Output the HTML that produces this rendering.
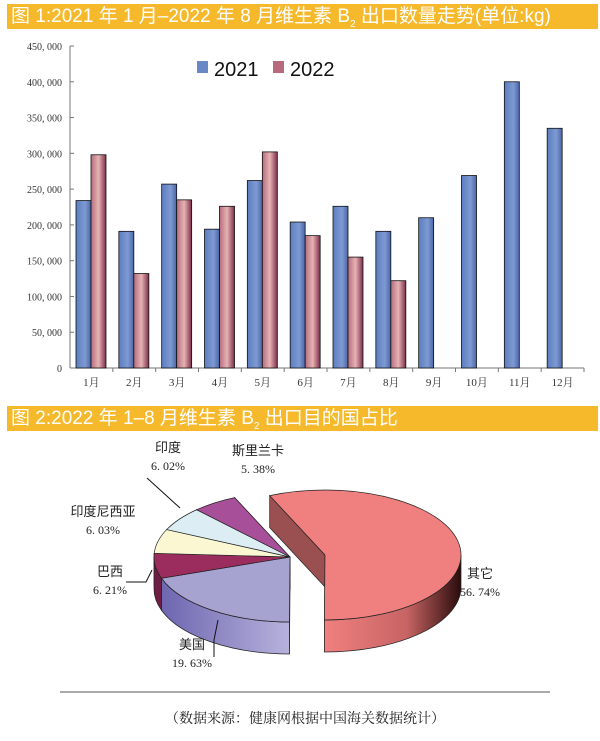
<!DOCTYPE html>
<html><head><meta charset="utf-8"><style>
body{margin:0;background:#fff;width:600px;height:741px;overflow:hidden;font-family:"Liberation Sans","Noto Sans CJK SC",sans-serif}
.hdr{position:absolute;left:7px;width:591px;height:25px;background:#F6B92B;color:#fff;font-size:19px;line-height:25px;padding-left:4px;box-sizing:border-box;white-space:nowrap}
svg{position:absolute;left:0;top:0}
</style></head><body>
<div class="hdr" style="top:4px">图 1:2021 年 1 月–2022 年 8 月维生素 B<sub style="font-size:10px">2</sub> 出口数量走势(单位:kg)</div>
<div class="hdr" style="top:406px">图 2:2022 年 1–8 月维生素 B<sub style="font-size:10px">2</sub> 出口目的国占比</div>
<svg width="600" height="741" id="s">
<defs>
<linearGradient id="gb" x1="0" x2="1"><stop offset="0" stop-color="#5B7DC0"/><stop offset="0.6" stop-color="#7F9AD2"/><stop offset="1" stop-color="#4A66A8"/></linearGradient>
<linearGradient id="gr" x1="0" x2="1"><stop offset="0" stop-color="#B56C7E"/><stop offset="0.5" stop-color="#E6B3B3"/><stop offset="1" stop-color="#7E2E4C"/></linearGradient>
<linearGradient id="gpink" x1="0" x2="1"><stop offset="0" stop-color="#F08080"/><stop offset="0.6" stop-color="#C86464"/><stop offset="1" stop-color="#2A0C0C"/></linearGradient>
<linearGradient id="gus" x1="0" x2="1"><stop offset="0" stop-color="#6E66B0"/><stop offset="1" stop-color="#B6B2DC"/></linearGradient>
</defs>
<g id="bars"></g><g id="pie"></g>
<line x1="60" y1="692" x2="550" y2="692" stroke="#555" stroke-width="1"/>
<text x="305" y="723" text-anchor="middle" font-size="14" font-family="'Liberation Serif','Noto Serif CJK SC',serif" fill="#222">（数据来源：健康网根据中国海关数据统计）</text>
</svg>
<script>
const months=["1月","2月","3月","4月","5月","6月","7月","8月","9月","10月","11月","12月"];
const v2021=[234000,191000,257000,194000,262000,204000,226000,191000,210000,269000,400000,335000];
const v2022=[298000,132000,235000,226000,302000,185000,155000,122000];
const yTicks=[0,50000,100000,150000,200000,250000,300000,350000,400000,450000];
const yTickLabels=["0","50, 000","100, 000","150, 000","200, 000","250, 000","300, 000","350, 000","400, 000","450, 000"];
const pieLabels=["其它","美国","巴西","印度尼西亚","印度","斯里兰卡"];
const pieValues=[56.74,19.63,6.21,6.03,6.02,5.38];
const NS="http://www.w3.org/2000/svg";
function mk(p,t,a){const e=document.createElementNS(NS,t);for(const k in a)e.setAttribute(k,a[k]);p.appendChild(e);return e;}
const B=document.getElementById('bars');
const x0=70,x1=584,yb=368,yt=46;
const y=v=>yb-(v/450000)*(yb-yt);
const gw=(x1-x0)/12;
let ax=mk(B,'line',{x1:x0,y1:yt,x2:x0,y2:yb,stroke:'#777'});


let bx=mk(B,'line',{x1:x0,y1:yb,x2:x1,y2:yb,stroke:'#777'});


yTicks.forEach((t,i)=>{
  mk(B,'line',{x1:x0,y1:y(t),x2:x0+4,y2:y(t),stroke:'#777'});
  const tx=mk(B,'text',{x:62,y:y(t)+4,'text-anchor':'end','font-size':10,'font-family':"'Liberation Serif',serif",fill:'#333'});
  tx.textContent=yTickLabels[i];
  
  
});
months.forEach((m,i)=>{
  const gx=x0+i*gw;
  mk(B,'line',{x1:gx+gw,y1:yb,x2:gx+gw,y2:yb+4,stroke:'#777'});
  const r=mk(B,'rect',{x:gx+6,y:y(v2021[i]),width:15,height:yb-y(v2021[i]),fill:'url(#gb)',stroke:'#111','stroke-width':0.8});
  
  
  if(i<v2022.length){
    const r2=mk(B,'rect',{x:gx+21,y:y(v2022[i]),width:15,height:yb-y(v2022[i]),fill:'url(#gr)',stroke:'#111','stroke-width':0.8});
    
    
  }
  const t=mk(B,'text',{x:gx+gw/2,y:386,'text-anchor':'middle','font-size':11,'font-family':"'Liberation Serif','Noto Serif CJK SC',serif",fill:'#333'});
  t.textContent=m;
  
  
});
[["2021","#6B88C6",197],["2022","#B86A7C",273]].forEach(l=>{
  const r=mk(B,'rect',{x:l[2],y:61,width:11,height:12,fill:l[1]});
  
  
  const t=mk(B,'text',{x:l[2]+17,y:76,'font-size':20,fill:'#111'});
  t.textContent=l[0];
  
  
});
// pie
const P=document.getElementById('pie');
const cx=290,cy=557,rx=136,ry=65,dep=32;
const tops=["#F08080","#A7A3D0","#9B2D5E","#FAF7D2","#DCEEF4","#A84F9A"];
const sides=["url(#gpink)","url(#gus)","#6E1E44","#D8D3A8","#AFC8D2","#7E2F72"];
const offs=[[35,-2],[0,0],[0,0],[0,0],[0,0],[0,0]];
const tot=pieValues.reduce((a,b)=>a+b,0);
let a=-114*Math.PI/180;
const sl=[];
pieValues.forEach((v,i)=>{const sp=v/tot*2*Math.PI;sl.push([a,a+sp]);a+=sp;});
const pt=(c,t,dy)=>[c[0]+rx*Math.cos(t),c[1]+ry*Math.sin(t)+(dy||0)];
sl.forEach((s,i)=>{
  const c=[cx+offs[i][0],cy+offs[i][1]];
  // radial faces
  [s[0],s[1]].forEach(t=>{
    const p=pt(c,t);
    mk(P,'path',{d:`M${c[0]},${c[1]}L${p[0]},${p[1]}L${p[0]},${p[1]+dep}L${c[0]},${c[1]+dep}Z`,fill:i==0?'#9A5050':sides[i],stroke:'#222','stroke-width':0.7});
  });
});
sl.forEach((s,i)=>{
  const c=[cx+offs[i][0],cy+offs[i][1]];
  // side wall for visible portion (0..PI mod 2PI)
  let lo=s[0],hi=s[1];
  const segs=[];
  for(let k=-1;k<=1;k++){const b0=k*2*Math.PI,b1=b0+Math.PI;const l=Math.max(lo,b0),h=Math.min(hi,b1);if(h>l)segs.push([l,h]);}
  segs.forEach(g=>{
    const p0=pt(c,g[0]),p1=pt(c,g[1]);
    const d=`M${p0[0]},${p0[1]}A${rx},${ry} 0 0 1 ${p1[0]},${p1[1]}L${p1[0]},${p1[1]+dep}A${rx},${ry} 0 0 0 ${p0[0]},${p0[1]+dep}Z`;
    mk(P,'path',{d,fill:sides[i],stroke:'#222','stroke-width':0.7});
  });
});
sl.forEach((s,i)=>{
  const c=[cx+offs[i][0],cy+offs[i][1]];
  const p0=pt(c,s[0]),p1=pt(c,s[1]);
  const large=(s[1]-s[0])>Math.PI?1:0;
  const e=mk(P,'path',{d:`M${c[0]},${c[1]}L${p0[0]},${p0[1]}A${rx},${ry} 0 ${large} 1 ${p1[0]},${p1[1]}Z`,fill:tops[i],stroke:'#222','stroke-width':0.7});
  
  
});
const lp=[[480,578],[192,649],[110,576],[103,516],[168,452],[258,455]];
pieLabels.forEach((l,i)=>{
  const t=mk(P,'text',{x:lp[i][0],y:lp[i][1],'text-anchor':'middle','font-size':13,'font-family':"'Liberation Serif','Noto Sans CJK SC',serif",fill:'#222'});
  t.textContent=l;
  
  
  const t2=mk(P,'text',{x:lp[i][0],y:lp[i][1]+18,'text-anchor':'middle','font-size':12,'font-family':"'Liberation Serif',serif",fill:'#222'});
  t2.textContent=pieValues[i].toFixed(2).replace('.','. ')+'%';
  
  
});
mk(P,'polyline',{points:"147,478 180,508",fill:'none',stroke:'#111'});
mk(P,'polyline',{points:"126,582 146,582 152,570",fill:'none',stroke:'#111'});
mk(P,'polyline',{points:"214,657 214,640 218,620",fill:'none',stroke:'#111'});
</script>
</body></html>
